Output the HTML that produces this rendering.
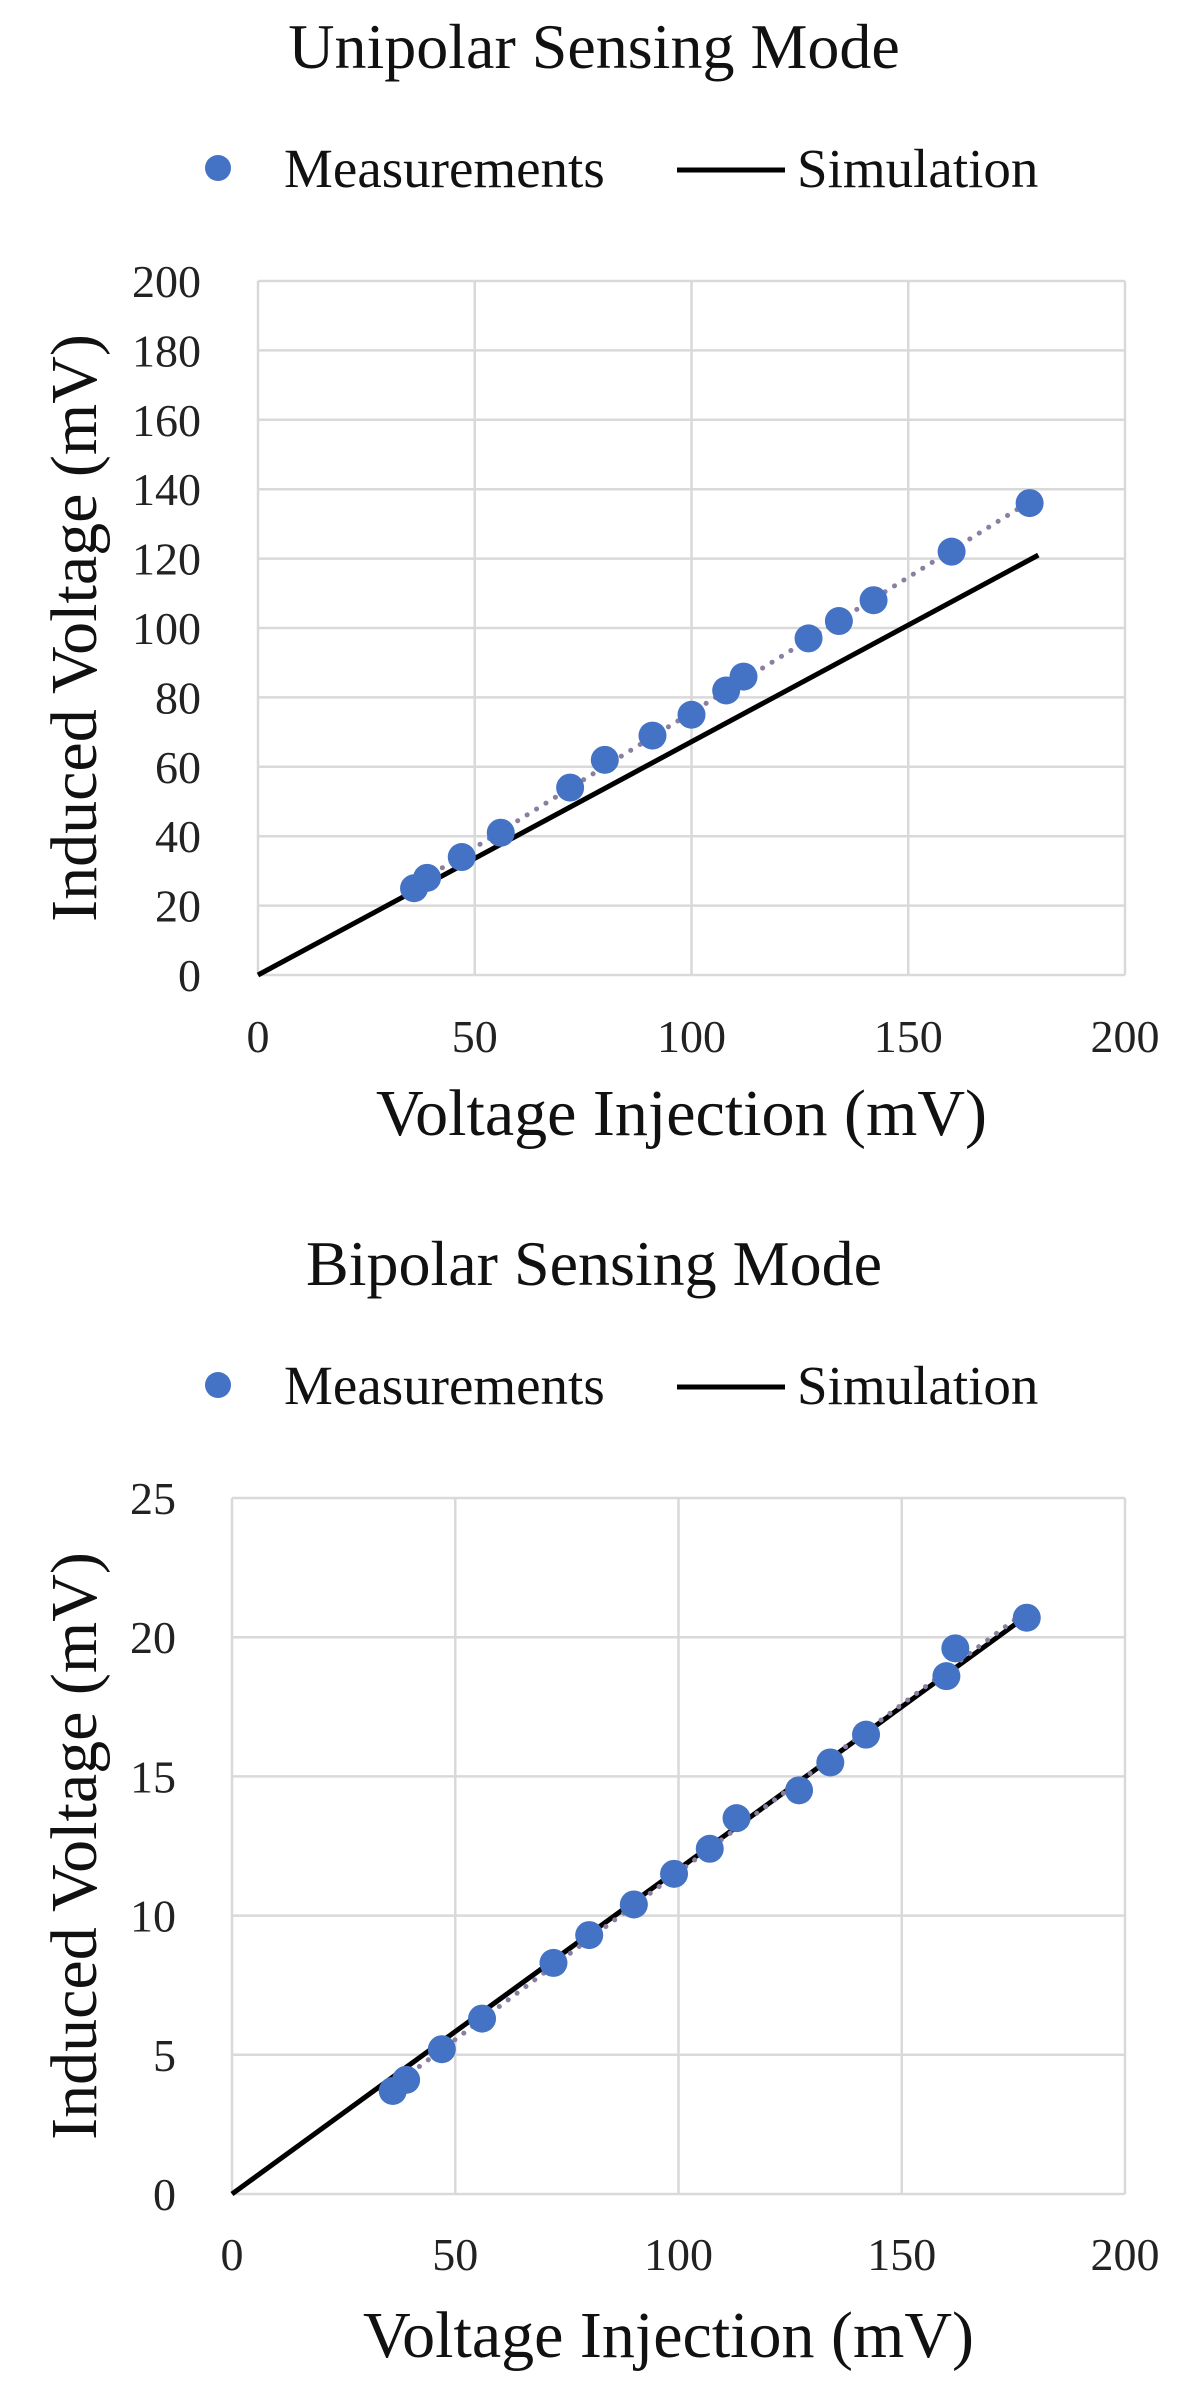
<!DOCTYPE html>
<html><head><meta charset="utf-8"><style>
html,body{margin:0;padding:0;background:#fff;}
svg{display:block;font-family:"Liberation Serif",serif;}
</style></head><body>
<svg id="s" width="1200" height="2387" viewBox="0 0 1200 2387"></svg>
<script>
const uniX=[36,39,47,56,72,80,91,100,108,112,127,134,142,160,178];
const uniY=[25,28,34,41,54,62,69,75,82,86,97,102,108,122,136];
const uniSimX=[0,180];
const uniSimY=[0,121];
const uniYTicks=[0,20,40,60,80,100,120,140,160,180,200];
const biX=[36,39,47,56,72,80,90,99,107,113,127,134,142,160,162,178];
const biY=[3.7,4.1,5.2,6.3,8.3,9.3,10.4,11.5,12.4,13.5,14.5,15.5,16.5,18.6,19.6,20.7];
const biSimX=[0,180];
const biSimY=[0,21];
const biYTicks=[0,5,10,15,20,25];
const xTicks=[0,50,100,150,200];

const NS="http://www.w3.org/2000/svg";
const svg=document.getElementById('s');
function mk(tag,attrs,parent,text){const e=document.createElementNS(NS,tag);for(const k in attrs)e.setAttribute(k,attrs[k]);if(text!==undefined)e.textContent=text;(parent||svg).appendChild(e);return e;}

function chart(cfg){
  const g=mk('g',{});
  
  
  const L=cfg.L,R=cfg.R,T=cfg.T,B=cfg.B;
  const yMax=cfg.yTicks[cfg.yTicks.length-1];
  const sx=v=>L+(v-0)/200*(R-L);
  const sy=v=>B-v/yMax*(B-T);
  const t=mk('text',{x:594,y:cfg.titleY,'font-size':64,'text-anchor':'middle',fill:'#111'},g,cfg.title);
  
  
  const lg=mk('g',{},g);
  
  
  mk('circle',{cx:218,cy:cfg.legY-5,r:13,fill:'#4472c4'},lg);
  mk('text',{x:284,y:cfg.legY+14,'font-size':55,fill:'#111'},lg,'Measurements');
  mk('line',{x1:677,x2:785,y1:cfg.legY-3,y2:cfg.legY-3,stroke:'#000','stroke-width':5},lg);
  mk('text',{x:797,y:cfg.legY+14,'font-size':55,fill:'#111'},lg,'Simulation');
  cfg.yTicks.forEach(v=>{
    const l=mk('line',{x1:L,x2:R,y1:sy(v),y2:sy(v),stroke:'#d9d9d9','stroke-width':2.5},g);
    
    
    const tx=mk('text',{x:cfg.yLabX,y:sy(v)+16,'font-size':46,'text-anchor':'end',fill:'#222'},g,String(v));
    
    
  });
  xTicks.forEach(v=>{
    const l=mk('line',{x1:sx(v),x2:sx(v),y1:T,y2:B,stroke:'#d9d9d9','stroke-width':2.5},g);
    
    
    const tx=mk('text',{x:sx(v),y:cfg.xLabY,'font-size':46,'text-anchor':'middle',fill:'#222'},g,String(v));
    
    
  });
  const sim=mk('line',{x1:sx(cfg.simX[0]),y1:sy(cfg.simY[0]),x2:sx(cfg.simX[1]),y2:sy(cfg.simY[1]),stroke:'#000','stroke-width':5},g);
  
  
  const n=cfg.xs.length;let mx=0,my=0;cfg.xs.forEach((x,i)=>{mx+=x;my+=cfg.ys[i];});mx/=n;my/=n;
  let num=0,den=0;cfg.xs.forEach((x,i)=>{num+=(x-mx)*(cfg.ys[i]-my);den+=(x-mx)*(x-mx);});
  const k=num/den,b=my-k*mx;const x0=cfg.xs[0],x1=cfg.xs[n-1];
  const tr=mk('line',{x1:sx(x0),y1:sy(k*x0+b),x2:sx(x1),y2:sy(k*x1+b),stroke:'#8a7fa0','stroke-width':5,'stroke-dasharray':'0.1 11','stroke-linecap':'round'},g);
  
  
  cfg.xs.forEach((x,i)=>{
    const c=mk('circle',{cx:sx(x),cy:sy(cfg.ys[i]),r:14,fill:'#4472c4'},g);
    
    
  });
  const xt=mk('text',{x:(L+R)/2-10,y:cfg.xTitleY,'font-size':66,'text-anchor':'middle',fill:'#111'},g,'Voltage Injection (mV)');
  
  
  const cy=(T+B)/2;
  const yt=mk('text',{x:0,y:0,'font-size':66,'text-anchor':'middle',fill:'#111',transform:`translate(96,${cy}) rotate(-90)`},g,'Induced Voltage (mV)');
  
  
}
chart({name:'unipolar-chart',title:'Unipolar Sensing Mode',titleY:68,legY:173,L:258,R:1125,T:281,B:975,yTicks:uniYTicks,xs:uniX,ys:uniY,simX:uniSimX,simY:uniSimY,yLabX:201,xLabY:1052,xTitleY:1135});
chart({name:'bipolar-chart',title:'Bipolar Sensing Mode',titleY:1285,legY:1390,L:232,R:1125,T:1498,B:2194,yTicks:biYTicks,xs:biX,ys:biY,simX:biSimX,simY:biSimY,yLabX:176,xLabY:2270,xTitleY:2357});
</script>
</body></html>
